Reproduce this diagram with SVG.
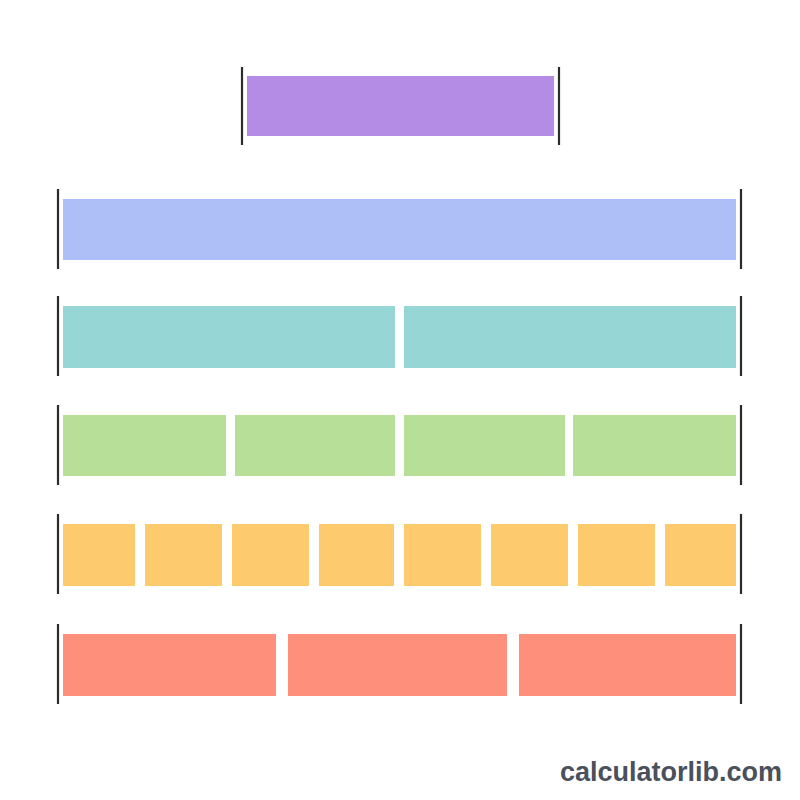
<svg xmlns="http://www.w3.org/2000/svg" width="800" height="800" viewBox="0 0 800 800">
<style>
.tick{stroke:#2b2b2b;stroke-width:2.2;}
.p{fill:#b48ce6}.b{fill:#aebef7}.t{fill:#96d6d4}.g{fill:#b8df98}.o{fill:#fdcb6e}.r{fill:#fe8f7a}
.brand{font-family:"Liberation Sans",Arial,sans-serif;font-weight:bold;font-size:27px;fill:#4a505c}
</style>
<rect width="800" height="800" fill="#ffffff"/>
<g id="whole">
<rect class="p" x="247" y="76" width="307" height="60"/>
<line class="tick" x1="242" y1="67" x2="242" y2="145"/>
<line class="tick" x1="559" y1="67" x2="559" y2="145"/>
</g>
<g id="row1">
<rect class="b" x="63" y="199" width="673" height="61"/>
<line class="tick" x1="58" y1="189" x2="58" y2="269"/>
<line class="tick" x1="741" y1="189" x2="741" y2="269"/>
</g>
<g id="row2">
<rect class="t" x="63" y="306" width="332" height="62"/>
<rect class="t" x="404" y="306" width="332" height="62"/>
<line class="tick" x1="58" y1="296" x2="58" y2="376"/>
<line class="tick" x1="741" y1="296" x2="741" y2="376"/>
</g>
<g id="row3">
<rect class="g" x="63" y="415" width="163" height="61"/>
<rect class="g" x="235" y="415" width="160" height="61"/>
<rect class="g" x="404" y="415" width="161" height="61"/>
<rect class="g" x="573" y="415" width="163" height="61"/>
<line class="tick" x1="58" y1="405" x2="58" y2="485"/>
<line class="tick" x1="741" y1="405" x2="741" y2="485"/>
</g>
<g id="row4">
<rect class="o" x="63" y="524" width="72" height="62"/>
<rect class="o" x="145" y="524" width="77" height="62"/>
<rect class="o" x="232" y="524" width="77" height="62"/>
<rect class="o" x="319" y="524" width="75" height="62"/>
<rect class="o" x="404" y="524" width="77" height="62"/>
<rect class="o" x="491" y="524" width="77" height="62"/>
<rect class="o" x="578" y="524" width="77" height="62"/>
<rect class="o" x="665" y="524" width="71" height="62"/>
<line class="tick" x1="58" y1="514" x2="58" y2="594"/>
<line class="tick" x1="741" y1="514" x2="741" y2="594"/>
</g>
<g id="row5">
<rect class="r" x="63" y="634" width="213" height="62"/>
<rect class="r" x="288" y="634" width="219" height="62"/>
<rect class="r" x="519" y="634" width="217" height="62"/>
<line class="tick" x1="58" y1="624" x2="58" y2="704"/>
<line class="tick" x1="741" y1="624" x2="741" y2="704"/>
</g>
<text class="brand" x="782" y="781" text-anchor="end">calculatorlib.com</text>
</svg>
